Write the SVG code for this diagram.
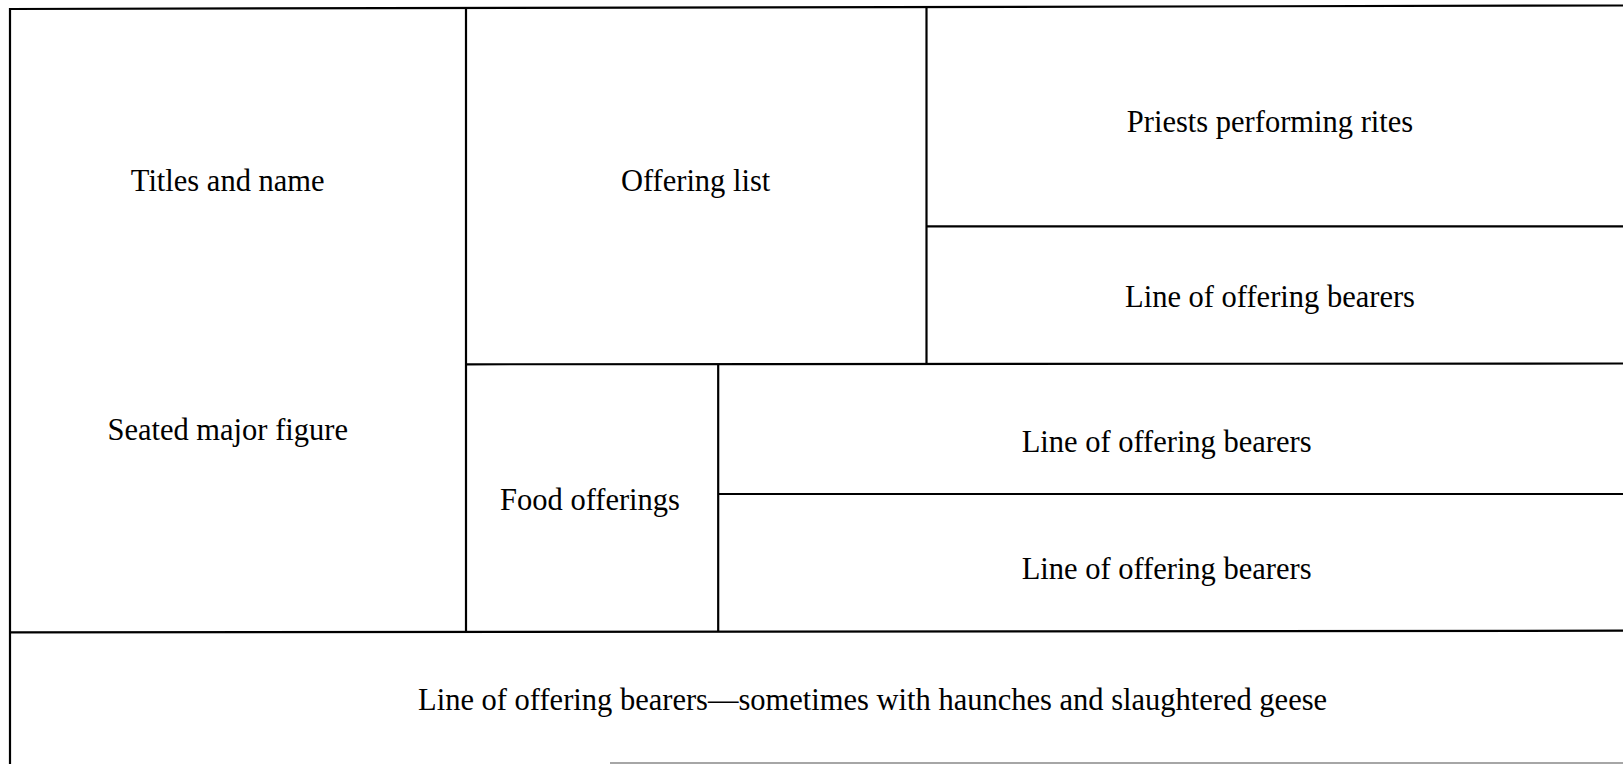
<svg xmlns="http://www.w3.org/2000/svg" width="1623" height="764" viewBox="0 0 1623 764">
<style>
.ln{stroke:#000;stroke-width:2.2;fill:none}
.t{font-family:"Liberation Serif","Times New Roman",serif;font-size:30.5px;fill:#000;text-anchor:middle}
</style>
<rect width="1623" height="764" fill="#fff"/>
<g id="connectors">
<line class="ln" x1="10" y1="9" x2="1623" y2="5.5"/>
<line class="ln" x1="10" y1="8" x2="10" y2="764"/>
<line class="ln" x1="466" y1="8" x2="466" y2="631"/>
<line class="ln" x1="926.5" y1="7" x2="926.5" y2="364"/>
<line class="ln" x1="926.5" y1="226.3" x2="1623" y2="226.3"/>
<line class="ln" x1="466" y1="364.3" x2="1623" y2="363.5"/>
<line class="ln" x1="718.2" y1="364" x2="718.2" y2="632"/>
<line class="ln" x1="718.2" y1="494" x2="1623" y2="494"/>
<line class="ln" x1="10" y1="632.3" x2="1623" y2="630.7"/>
<line x1="610" y1="763" x2="1623" y2="763" stroke="#888" stroke-width="1.5"/>
</g>
<g id="titles"><text class="t" x="227.7" y="190.5">Titles and name</text></g>
<g id="seated"><text class="t" x="227.7" y="440">Seated major figure</text></g>
<g id="offering-list"><text class="t" x="695.6" y="190.5">Offering list</text></g>
<g id="priests"><text class="t" x="1270" y="131.5">Priests performing rites</text></g>
<g id="bearers1"><text class="t" x="1270" y="307">Line of offering bearers</text></g>
<g id="food"><text class="t" x="590" y="510">Food offerings</text></g>
<g id="bearers2"><text class="t" x="1166.6" y="452">Line of offering bearers</text></g>
<g id="bearers3"><text class="t" x="1166.6" y="578.6">Line of offering bearers</text></g>
<g id="bearers4"><text class="t" x="872.6" y="710">Line of offering bearers—sometimes with haunches and slaughtered geese</text></g>
</svg>
